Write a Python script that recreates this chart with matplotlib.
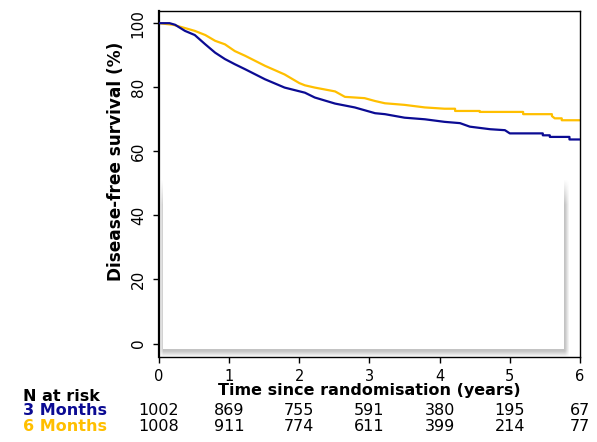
import numpy as np
import matplotlib
matplotlib.use("Agg")
from matplotlib import pyplot as plt
from matplotlib.patches import Rectangle
import matplotlib.transforms as mtransforms

# Disease-free survival (%) by time since randomisation (years)
t_3m = [0, 0.15, 0.23, 0.37, 0.51, 0.66, 0.80, 0.94, 1.08, 1.23, 1.51, 1.79, 2.08, 2.22,
        2.51, 2.79, 3.08, 3.22, 3.50, 3.79, 4.07, 4.29, 4.43, 4.72, 4.93, 5.0, 5.47, 5.47,
        5.57, 5.57, 5.85, 5.85, 6.0]
s_3m = [100, 100, 99.5, 97.6, 96.3, 93.4, 90.8, 88.8, 87.2, 85.6, 82.5, 79.9, 78.3, 76.8,
        74.9, 73.7, 71.9, 71.6, 70.5, 70.0, 69.2, 68.8, 67.7, 66.9, 66.6, 65.6, 65.6, 65.0,
        65.0, 64.5, 64.5, 63.7, 63.7]

t_6m = [0, 0.2, 0.35, 0.51, 0.66, 0.80, 0.94, 1.08, 1.23, 1.51, 1.79, 2.0, 2.08, 2.22,
        2.51, 2.65, 2.93, 3.08, 3.22, 3.50, 3.79, 4.07, 4.22, 4.22, 4.57, 4.57, 5.19, 5.19,
        5.60, 5.60, 5.64, 5.74, 5.74, 6.0]
s_6m = [100, 99.5, 98.6, 97.6, 96.3, 94.5, 93.4, 91.3, 89.8, 86.7, 84.0, 81.3, 80.6, 79.9,
        78.7, 77.0, 76.6, 75.7, 75.0, 74.5, 73.7, 73.3, 73.3, 72.6, 72.6, 72.3, 72.3, 71.6,
        71.6, 71.0, 70.3, 70.3, 69.7, 69.7]

# numbers at risk
risk_times = [0, 1, 2, 3, 4, 5, 6]
risk_3m = [1002, 869, 755, 591, 380, 195, 67]
risk_6m = [1008, 911, 774, 611, 399, 214, 77]

BLUE = "#0b0b93"
GOLD = "#ffbf00"

fig = plt.figure(figsize=(5.97, 4.42), dpi=100)
ax = fig.add_axes([0.2663, 0.1923, 0.7052, 0.7828])
ax.set_xlim(0, 6)
ax.set_ylim(-4.2, 103.8)

# shaded panel inside the plot area (white box with soft grey shadow)
px = np.arange(155, 574)
py = np.arange(170, 362)
X, Y = np.meshgrid(px, py)
ramp = lambda v: np.clip(v, 0, 1)
alpha = (ramp((X - 159) / 4.0) * ramp((569 - X) / 4.5) *
         ramp((357 - Y) / 6.0) * ramp((Y - 180) / 25.0)) * 0.42
img = np.zeros(X.shape + (4,))
img[..., :3] = 0.45
img[..., 3] = alpha
to_x = lambda p: (p - 159) / 70.17
to_y = lambda p: (344 - p) / 3.2
ax.imshow(img, extent=[to_x(155), to_x(574), to_y(362), to_y(170)],
          aspect="auto", interpolation="bilinear", zorder=1)
ax.add_patch(Rectangle((to_x(163), to_y(349)), to_x(564) - to_x(163), to_y(180) - to_y(349),
                       facecolor="white", edgecolor="none", zorder=1.5))

ax.plot(t_3m, s_3m, color=BLUE, lw=1.6, zorder=3)
ax.plot(t_6m, s_6m, color=GOLD, lw=1.6, zorder=2.5)

ax.set_xticks(risk_times)
ax.set_yticks([0, 20, 40, 60, 80, 100])
ax.tick_params(axis="x", length=4, width=1, pad=4.5, labelsize=10.5)
ax.tick_params(axis="y", length=4, width=1, pad=5.5, labelsize=11, labelrotation=90)
for lab in ax.get_yticklabels():
    lab.set_va("center")
for sp in ax.spines.values():
    sp.set_linewidth(1.0)
ax.spines["left"].set_linewidth(1.6)

ax.set_xlabel("Time since randomisation (years)", fontsize=11.5, fontweight="bold")
ax.xaxis.set_label_coords(0.5, -0.075)
ax.set_ylabel("Disease-free survival (%)", fontsize=12.2, fontweight="bold")
ax.yaxis.set_label_coords(-0.08, 0.566)

# risk table under the axis
trans = mtransforms.blended_transform_factory(ax.transData, fig.transFigure)
fig.text(0.0385, 0.0934, "N at risk", fontsize=11.5, fontweight="bold", va="baseline")
fig.text(0.0385, 0.0611, "3 Months", fontsize=11.5, fontweight="bold", color=BLUE, va="baseline")
fig.text(0.0385, 0.0249, "6 Months", fontsize=11.5, fontweight="bold", color=GOLD, va="baseline")
for t, n3, n6 in zip(risk_times, risk_3m, risk_6m):
    ax.text(t, 0.0611, str(n3), transform=trans, ha="center", va="baseline",
            fontsize=11.5, clip_on=False)
    ax.text(t, 0.0249, str(n6), transform=trans, ha="center", va="baseline",
            fontsize=11.5, clip_on=False)

fig.savefig("out.png", dpi=100)
